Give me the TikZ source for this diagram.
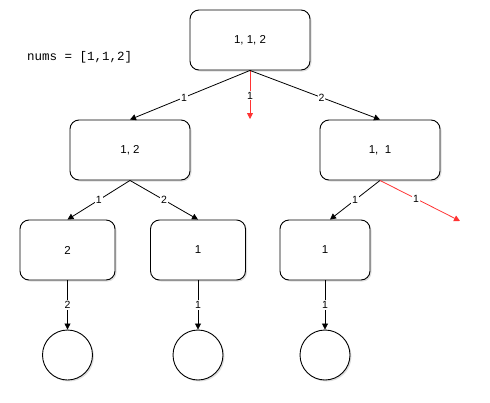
\documentclass[tikz,border=0pt]{standalone}
\usepackage{fontspec}
\setmainfont{Liberation Sans}
\newfontfamily\monof{Liberation Mono}
\usetikzlibrary{arrows.meta,shadows}
\begin{document}
\begin{tikzpicture}[x=1pt,y=-1pt,
  box/.style={draw,rounded corners=9pt,fill=white,line width=0.9pt,font=\fontsize{11.5}{13}\selectfont,
     drop shadow={shadow xshift=1.5pt,shadow yshift=-1.5pt,opacity=0.25}},
  leaf/.style={draw,circle,minimum size=50pt,inner sep=0pt,fill=white,line width=0.9pt,
     drop shadow={shadow xshift=1.5pt,shadow yshift=-1.5pt,opacity=0.25}},
  edge/.style={-{Triangle[length=6pt,width=6pt]},line width=0.8pt},
  redge/.style={edge,red!85!black,draw=red!80},
  lbl/.style={fill=white,inner sep=1pt,font=\fontsize{10.5}{11}\selectfont,text=black}]
\useasboundingbox (0,0) rectangle (490,402);
\node[box,minimum width=120pt,minimum height=60pt] (r) at (250,40) {1, 1, 2};
\node[box,minimum width=120pt,minimum height=60pt] (a) at (130,150) {1, 2};
\node[box,minimum width=120pt,minimum height=60pt] (b) at (380,150) {1,\ \ 1};
\node[box,minimum width=95pt,minimum height=60pt] (c) at (67.5,250) {2};
\node[box,minimum width=95pt,minimum height=60pt] (d) at (198,250) {1};
\node[box,minimum width=90pt,minimum height=60pt] (e) at (325,250) {1};
\node[leaf] (f) at (67.5,355) {};
\node[leaf] (g) at (198,355) {};
\node[leaf] (h) at (325,355) {};
\node[font=\monof\fontsize{12.5}{14}\selectfont,anchor=west,inner sep=0pt] (t) at (27,57) {nums = [1,1,2]};
\coordinate (rr) at (250,119);
\coordinate (br) at (460,221);
\draw[edge] (r.south) -- node[lbl,pos=0.55]{1} (a.north);
\draw[redge] (r.south) -- node[lbl,pos=0.52]{1} (rr);
\draw[edge] (r.south) -- node[lbl,pos=0.55]{2} (b.north);
\draw[edge] (a.south) -- node[lbl,pos=0.5]{1} (c.north);
\draw[edge] (a.south) -- node[lbl,pos=0.5]{2} (d.north);
\draw[edge] (b.south) -- node[lbl,pos=0.5]{1} ([xshift=5pt]e.north);
\draw[redge] (b.south) -- node[lbl,pos=0.45]{1} (br);
\draw[edge] (c.south) -- node[lbl]{2} (f.north);
\draw[edge] (d.south) -- node[lbl]{1} (g.north);
\draw[edge] (e.south) -- node[lbl]{1} (h.north);
\end{tikzpicture}
\end{document}
